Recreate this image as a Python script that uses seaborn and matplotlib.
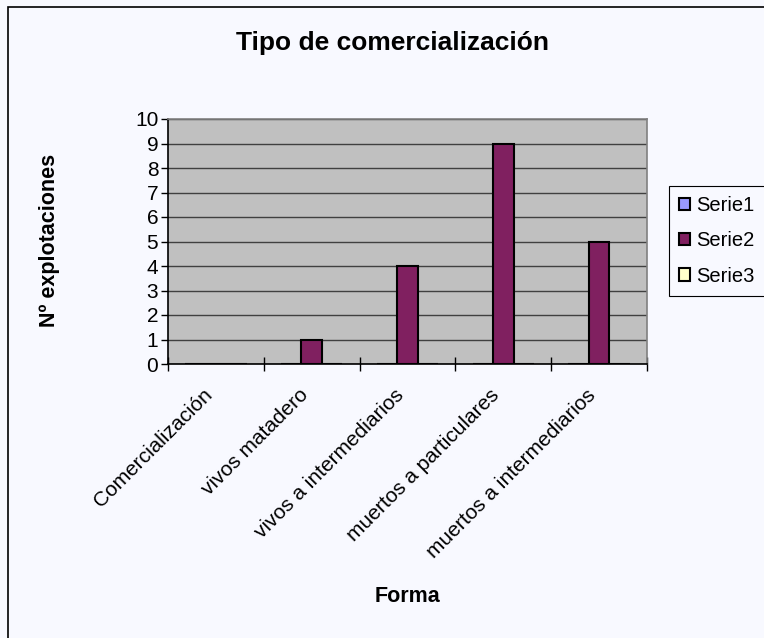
import matplotlib
matplotlib.use('agg')
import matplotlib.pyplot as plt
import pandas as pd
import seaborn as sns
from matplotlib.patches import Rectangle

# --- datos ---
categorias = ['Comercialización', 'vivos matadero', 'vivos a intermediarios',
              'muertos a particulares', 'muertos a intermediarios']
series = ['Serie1', 'Serie2', 'Serie3']
serie1 = [0, 0, 0, 0, 0]
serie2 = [0, 1, 4, 9, 5]
serie3 = [0, 0, 0, 0, 0]
colores = ['#9999FF', '#802060', '#FFFFCC']
y_ticks = list(range(0, 11))

df = pd.DataFrame({
    'Forma': categorias * 3,
    'serie': [s for s in series for _ in categorias],
    'valor': serie1 + serie2 + serie3,
})

sns.set_theme(style='white')
plt.rcParams['font.family'] = ['Liberation Sans', 'DejaVu Sans']
plt.rcParams['text.color'] = 'black'
plt.rcParams['axes.labelcolor'] = 'black'
plt.rcParams['xtick.color'] = 'black'
plt.rcParams['ytick.color'] = 'black'

bg = '#F8F9FF'
fig = plt.figure(figsize=(7.64, 6.38), dpi=100, facecolor=bg)
ax = fig.add_axes([168 / 764, 1 - 364 / 638, (647 - 168) / 764, (364 - 119) / 638])
ax.set_facecolor('#C0C0C0')

sns.barplot(data=df, x='Forma', y='valor', hue='serie', palette=colores,
            width=0.64, edgecolor='black', linewidth=1.5, saturation=1,
            ax=ax, zorder=3)

ax.set_ylim(0, 10)
ax.set_xlim(-0.5, len(categorias) - 0.5)
ax.set_yticks(y_ticks)
ax.set_yticklabels([str(t) for t in y_ticks], fontsize=15)
ax.yaxis.grid(True, color='#404040', linewidth=1, zorder=0)
ax.set_axisbelow(True)
ax.tick_params(axis='y', direction='out', length=5, width=1, color='black', left=True, pad=2)

# ticks de categoría en los bordes
ax.set_xticks(range(len(categorias)))
ax.set_xticks([i - 0.5 for i in range(len(categorias) + 1)], minor=True)
ax.tick_params(axis='x', which='major', length=0, pad=25)
ax.tick_params(axis='x', which='minor', direction='inout', length=10, width=1, color='black', bottom=True)
ax.set_xticklabels(categorias, rotation=45, ha='right', va='bottom', rotation_mode='anchor', fontsize=15)

for s in ['top', 'right']:
    ax.spines[s].set_color('#808080')
    ax.spines[s].set_linewidth(1.2)
for s in ['left', 'bottom']:
    ax.spines[s].set_color('black')
    ax.spines[s].set_linewidth(1.2)

ax.set_xlabel('Forma', fontsize=15.5, fontweight='bold', labelpad=0)
ax.xaxis.set_label_coords((407 - 168) / (647 - 168), -(597 - 364) / (364 - 119))
ax.xaxis.label.set_va('center')
ax.set_ylabel('Nº explotaciones', fontsize=15.5, fontweight='bold')
ax.yaxis.set_label_coords(-(168 - 50) / (647 - 168), (364 - 240) / (364 - 119))
ax.yaxis.label.set_va('center')

fig.text(392 / 764, 1 - 43 / 638, 'Tipo de comercialización', ha='center', va='center',
         fontsize=19, fontweight='bold')

handles, labels = ax.get_legend_handles_labels()
ax.legend(handles, labels, loc='center left', bbox_to_anchor=(669 / 764, 1 - 241 / 638),
          bbox_transform=fig.transFigure, fontsize=14.5, frameon=True, fancybox=False,
          edgecolor='black', facecolor=bg, framealpha=1, handlelength=0.55, handleheight=0.55,
          handletextpad=0.3, labelspacing=0.8, borderpad=0.5, borderaxespad=0)
ax.get_legend().get_frame().set_linewidth(0.8)

# marco del gráfico
fig.patches.append(Rectangle((8 / 764, -0.1), 1.2, 1.1 - 7 / 638, transform=fig.transFigure,
                             fill=False, edgecolor='black', linewidth=1.2))

plt.savefig('out.png', dpi=100, facecolor=bg)
